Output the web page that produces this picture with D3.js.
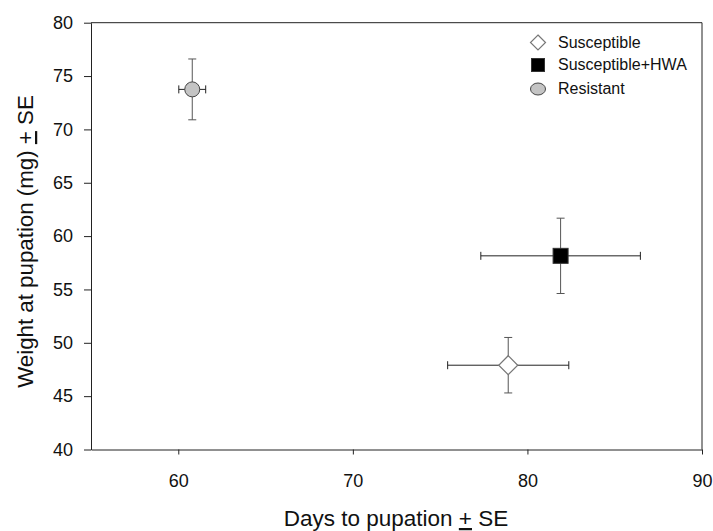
<!DOCTYPE html>
<html><head><meta charset="utf-8">
<script src="https://cdn.jsdelivr.net/npm/d3@7"></script>
<style>body{margin:0;background:#fff}svg{font-family:"Liberation Sans",Arial,sans-serif}</style>
</head><body><svg id="c" width="713" height="531"></svg>
<script>
const groups = ["Susceptible", "Susceptible+HWA", "Resistant"];
const days = [78.9, 81.9, 60.8];
const daysSE = [3.47, 4.57, 0.77];
const weight = [47.9, 58.15, 73.75];
const weightSE = [2.6, 3.53, 2.85];
const xTicks = [60, 70, 80, 90];
const yTicks = [40, 45, 50, 55, 60, 65, 70, 75, 80];

const svg = d3.select("#c");
const L = 91, R = 702, T = 22.7, B = 449.5;
const x = d3.scaleLinear().domain([55, 90]).range([L, R]);
const y = d3.scaleLinear().domain([40, 80]).range([B, T]);

// frame
svg.append("line").attr("x1", L).attr("x2", R).attr("y1", T).attr("y2", T).attr("stroke", "#222");
svg.append("line").attr("x1", R).attr("x2", R).attr("y1", T).attr("y2", B).attr("stroke", "#222");

const xa = svg.append("g").attr("transform", `translate(0,${B})`)
  .call(d3.axisBottom(x).tickValues(xTicks).tickSize(5).tickPadding(20).tickSizeOuter(0));
const ya = svg.append("g").attr("transform", `translate(${L},0)`)
  .call(d3.axisLeft(y).tickValues(yTicks).tickSize(7).tickPadding(11).tickSizeOuter(0));
[xa, ya].forEach(a => {
  a.selectAll("path,line").attr("stroke", "#222");
  a.selectAll("text").attr("font-size", 18).attr("fill", "#111").attr("font-family", "Liberation Sans, Arial, sans-serif");
});

// axis titles
const xt = svg.append("text").attr("x", 396).attr("y", 526).attr("text-anchor", "middle")
  .attr("font-size", 22.5).attr("fill", "#111");
xt.append("tspan").text("Days to pupation ");
xt.append("tspan").attr("text-decoration", "underline").text("+");
xt.append("tspan").text(" SE");

const yt = svg.append("text").attr("transform", `translate(33,241.5) rotate(-90)`).attr("text-anchor", "middle")
  .attr("font-size", 22.3).attr("fill", "#111");
yt.append("tspan").text("Weight at pupation (mg) ");
yt.append("tspan").attr("text-decoration", "underline").text("+");
yt.append("tspan").text(" SE");

const data = groups.map((g, i) => ({g, x: days[i], xs: daysSE[i], y: weight[i], ys: weightSE[i]}));
const cap = 4;
data.forEach(d => {
  const g = svg.append("g");
  g.append("line").attr("x1", x(d.x - d.xs)).attr("x2", x(d.x + d.xs)).attr("y1", y(d.y)).attr("y2", y(d.y)).attr("stroke", "#222");
  [d.x - d.xs, d.x + d.xs].forEach(v => g.append("line").attr("x1", x(v)).attr("x2", x(v)).attr("y1", y(d.y) - cap).attr("y2", y(d.y) + cap).attr("stroke", "#222"));
  g.append("line").attr("x1", x(d.x)).attr("x2", x(d.x)).attr("y1", y(d.y - d.ys)).attr("y2", y(d.y + d.ys)).attr("stroke", "#555");
  [d.y - d.ys, d.y + d.ys].forEach(v => g.append("line").attr("x1", x(d.x) - cap).attr("x2", x(d.x) + cap).attr("y1", y(v)).attr("y2", y(v)).attr("stroke", "#555"));
});

function marker(sel, g, cx, cy, legend) {
  if (g === "Susceptible") {
    const h = legend ? 7.5 : 9.5;
    sel.append("path").attr("d", `M${cx},${cy - h}L${cx + h},${cy}L${cx},${cy + h}L${cx - h},${cy}Z`)
      .attr("fill", "#fff").attr("stroke", "#777").attr("stroke-width", 1.2);
  } else if (g === "Susceptible+HWA") {
    const h = legend ? 6.5 : 7.5;
    sel.append("rect").attr("x", cx - h).attr("y", cy - h).attr("width", 2 * h).attr("height", 2 * h)
      .attr("fill", "#000").attr("stroke", "#333");
  } else {
    sel.append("ellipse").attr("cx", cx).attr("cy", cy).attr("rx", 7.5).attr("ry", legend ? 6 : 7.5)
      .attr("fill", "#c4c4c4").attr("stroke", "#444").attr("stroke-width", 1);
  }
}
data.forEach(d => marker(svg, d.g, x(d.x), y(d.y), false));

// legend
const ly = [42.5, 65, 89];
groups.forEach((g, i) => {
  marker(svg, g, 538, ly[i], true);
  svg.append("text").attr("x", 558).attr("y", ly[i] + 5).attr("font-size", 16).attr("fill", "#111").text(g);
});
</script></body></html>
